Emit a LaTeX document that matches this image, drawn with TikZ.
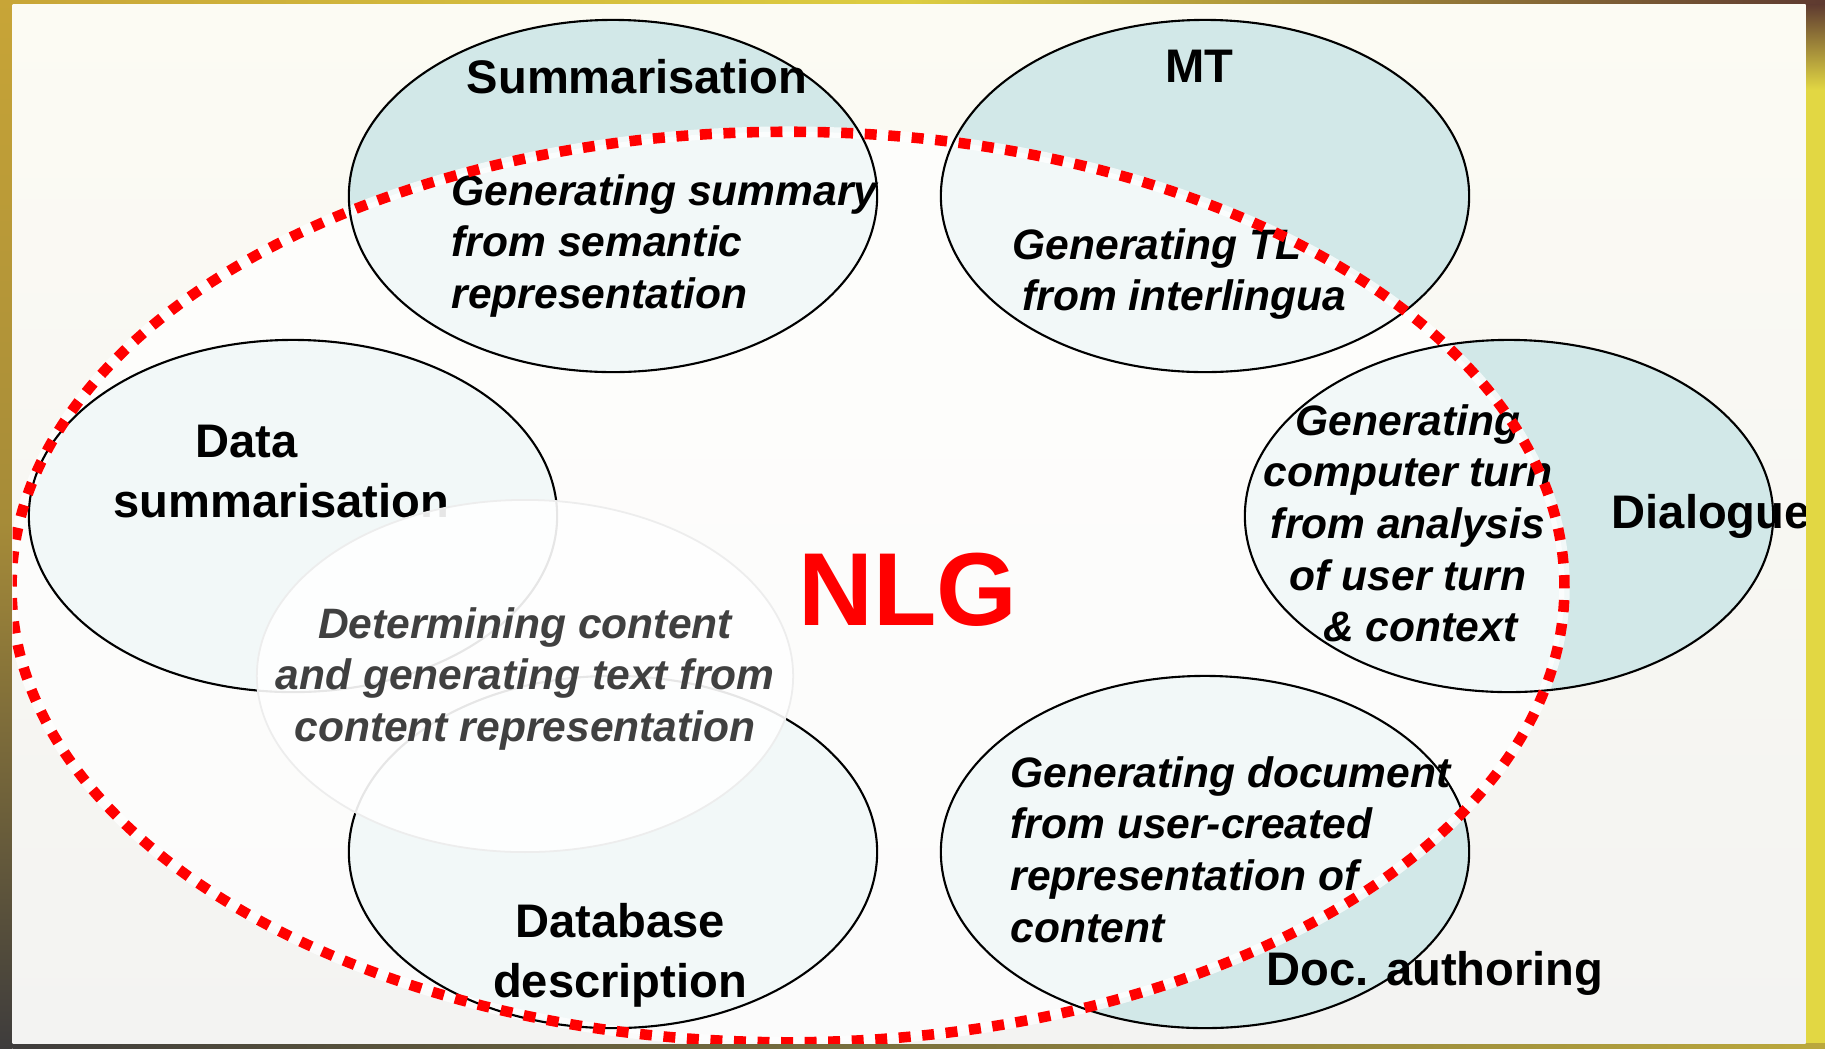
\documentclass[tikz,border=0pt]{standalone}
\usepackage{fontspec}
\setmainfont{Liberation Sans}
\usetikzlibrary{shapes.geometric}
\definecolor{tealfill}{RGB}{210,232,232}
\definecolor{nlgred}{RGB}{255,0,0}
\definecolor{txtgray}{RGB}{64,64,64}
\definecolor{slidetop}{RGB}{252,251,243}
\definecolor{slidebot}{RGB}{243,243,242}
\definecolor{frgold}{RGB}{200,165,55}
\definecolor{frdark}{RGB}{62,60,60}
\definecolor{frbrown}{RGB}{94,58,48}
\definecolor{fryellow}{RGB}{226,215,67}
\newcommand{\linesL}[1]{\vtop{\halign{##\hfil\cr#1\crcr}}}
\newcommand{\linesC}[1]{\vtop{\halign{\hfil##\hfil\cr#1\crcr}}}
\begin{document}
\begin{tikzpicture}[x=0.01cm, y=-0.01cm,
  blob/.style={ellipse, minimum width=5.28cm, minimum height=3.52cm, inner sep=0pt, fill=tealfill},
  outl/.style={draw=black, line width=0.6pt},
  lbl/.style={inner sep=0pt, font=\fontsize{13.4}{17.2}\selectfont\bfseries},
  body/.style={inner sep=0pt, font=\fontsize{12.1}{14.7}\selectfont\bfseries\itshape},
  ringline/.style={nlgred, line width=3pt, dash pattern=on 3.4pt off 3.3pt}
]
\useasboundingbox (0,0) rectangle (1825,1048);
% frame
\fill[frdark] (0,0) rectangle (1825,1048);
\shade[top color=frgold, bottom color=frdark, middle color=frgold!75!frdark] (0,0) rectangle (12.6,1048);
\shade[left color=frgold, right color=frbrown, middle color=fryellow!80!frgold] (0,0) rectangle (1825,4);
\fill[fryellow] (1805.6,60) rectangle (1825,1048);
\shade[top color=frbrown, bottom color=fryellow] (1805.6,4) rectangle (1825,90);
\shade[left color=frdark, right color=fryellow!70!frbrown] (12.6,1043) rectangle (1825,1048);
% slide
\shade[top color=slidetop, bottom color=slidebot] (12.6,4) rectangle (1805.6,1043);

\begin{scope}
\clip (12.6,4) rectangle (1805.6,1043);
% ellipses
\node[blob] (summ) at (613,196) {};
\node[blob] (mt) at (1205,196) {};
\node[blob] (data) at (293,516) {};
\node[blob] (dial) at (1509,516) {};
\node[blob] (dbase) at (613,852) {};
\node[blob] (doc) at (1205,852) {};
% NLG region overlay
\coordinate (ringc) at (788,587);
\path[fill=white, fill opacity=0.72, draw=white, draw opacity=0.72, line width=3pt]
  (ringc) ellipse [x radius=7.76cm, y radius=4.55cm];
% outlines
\foreach \n in {summ,mt,data,dial,dbase,doc}
  \draw[outl] (\n.center) ellipse [x radius=2.64cm, y radius=1.76cm];
% data summarisation label (partly covered)
\node[lbl, anchor=base west] (datalbl) at (113,457) {\linesL{\hspace*{23.3pt}Data\cr summarisation}};
% content ellipse
\node[ellipse, minimum width=5.36cm, minimum height=3.52cm, inner sep=0pt,
  fill=white, fill opacity=0.9, draw=black!7, line width=0.5pt] (content) at (525,676) {};
\node[body, text=txtgray, anchor=base] (contenttxt) at (525,638)
  {\linesC{Determining content\cr and generating text from\cr content representation}};
% labels
\node[lbl, anchor=base] (summlbl) at (637,93) {Summarisation};
\node[lbl, anchor=base] (mtlbl) at (1199.5,82) {MT};
\node[lbl, anchor=base west] (diallbl) at (1611,528) {Dialogue};
\node[lbl, anchor=base west] (doclbl) at (1266,985) {Doc. authoring};
\node[lbl, anchor=base] (dbaselbl) at (620,937) {\linesC{Database\cr description}};
% bodies
\node[body, anchor=base west] (summtxt) at (451,205)
  {\linesL{Generating summary\cr from semantic\cr representation}};
\node[body, anchor=base west] (mttxt) at (1012,259)
  {\linesL{Generating TL\cr \hspace*{2.8pt}from interlingua}};
\node[body, anchor=base] (dialtxt) at (1408,435)
  {\linesC{Generating\cr computer turn\cr from analysis\cr of user turn\cr \hspace*{7pt}\& context}};
\node[body, anchor=base west] (doctxt) at (1010,787)
  {\linesL{Generating document\cr from user-created\cr representation of\cr content}};
% NLG title
\node[inner sep=0pt, anchor=base, text=nlgred, font=\fontsize{29.5}{35}\selectfont\bfseries] (nlg) at (908,625) {NLG};
% red dotted boundary
\draw[ringline] (ringc) ellipse [x radius=7.76cm, y radius=4.55cm];
\end{scope}
\end{tikzpicture}
\end{document}
